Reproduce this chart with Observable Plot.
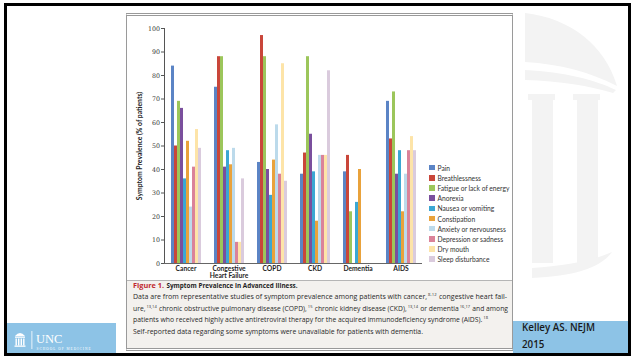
<!DOCTYPE html>
<html>
<head>
<meta charset="utf-8">
<script src="https://cdn.jsdelivr.net/npm/d3@7"></script>
<script src="https://cdn.jsdelivr.net/npm/@observablehq/plot@0.6"></script>
<style>
html,body{margin:0;padding:0;background:#fff;}
#slide{position:relative;width:631px;height:356px;overflow:hidden;background:#fff;font-family:Lato,"Open Sans",sans-serif;}
#wm{position:absolute;left:0;top:0;}
#frame{position:absolute;left:4px;top:3px;right:0;bottom:0;border:3px solid #000;box-sizing:border-box;}
.band{position:absolute;background:#8dc3e6;}
#box{position:absolute;left:126px;top:13px;width:387px;height:338px;box-sizing:border-box;border-left:1px solid #9a9a9a;border-right:1px solid #9a9a9a;border-top:3px double #999;border-bottom:3px double #999;background:#fff;}
#capbg{position:absolute;left:127px;top:280px;width:385px;height:68px;background:#f3f1ee;border-top:1px solid #b5b5b5;box-sizing:border-box;}
#chart{position:absolute;left:127px;top:16px;}
#chart svg g[aria-label="y-axis tick label"]{font-family:"DejaVu Serif",serif;font-size:6.3px;fill:#333;}
#chart svg g[aria-label="y-axis label"]{font-weight:bold;font-size:6.8px;fill:#222;}
#legend{position:absolute;left:429px;top:162.6px;font-family:Lato,"Open Sans",sans-serif;font-size:6.7px;color:#333;}
#legend .row{height:10.18px;display:flex;align-items:center;white-space:nowrap;}
#legend .sw{width:5.5px;height:5.5px;margin-right:3px;flex:none;}
#caption{position:absolute;left:127px;top:280.5px;}
#caption text{white-space:pre;}
#unc{position:absolute;left:0;top:0;}
#cite{position:absolute;left:522px;top:319px;font-family:"Open Sans",sans-serif;font-weight:600;font-size:9.8px;line-height:17px;color:#1a1a1a;}
</style>
</head>
<body>
<div id="slide">
  <svg id="wm" width="631" height="356">
    <g fill="#f3f3f3">
      <path d="M525,13 C570,18 605,45 617,86 C590,72 560,64 525,62 Z"/>
      <path d="M525,70 C565,72 595,80 616,90 L613,93 C590,86 560,81 525,80 Z"/>
      <rect x="528" y="94" width="27" height="6"/>
      <rect x="573" y="94" width="27" height="6"/>
      <rect x="532" y="100" width="21" height="163"/>
      <rect x="577" y="100" width="21" height="163"/>
      <path d="M532,268 C560,266 590,262 612,252 C600,268 575,276 532,278 Z"/>
    </g>
  </svg>
  <div id="frame"></div>
  <div class="band" style="left:7px;top:323px;width:109px;height:30px;"></div>
  <div class="band" style="left:513px;top:321px;width:115px;height:32px;"></div>
  <div id="box"></div>
  <div id="capbg"></div>
  <div id="chart"></div>
  <div id="legend"></div>
  <svg id="caption" width="385" height="68" font-family="'Open Sans',sans-serif" font-size="7.2" fill="#2a2a2a">
    <text x="6" y="6.5" font-weight="bold" fill="#c0282e" textLength="31" lengthAdjust="spacingAndGlyphs">Figure 1.</text>
    <text x="39.5" y="6.5" font-weight="bold" fill="#1e1e1e" textLength="131" lengthAdjust="spacingAndGlyphs">Symptom Prevalence in Advanced Illness.</text>
  </svg>
  <svg id="unc" width="631" height="356">
    <g fill="#fff">
      <path d="M15,336 Q20,330 25,336 Z"/>
      <rect x="15" y="336.5" width="10" height="1.3"/>
      <rect x="15.5" y="338.5" width="1.4" height="7"/>
      <rect x="18" y="338.5" width="1.4" height="7"/>
      <rect x="20.6" y="338.5" width="1.4" height="7"/>
      <rect x="23.1" y="338.5" width="1.4" height="7"/>
      <rect x="14.5" y="345.5" width="11" height="1.3"/>
      <rect x="31.5" y="331" width="0.8" height="18"/>
      <text x="36" y="342.5" font-family="'Liberation Serif',serif" font-size="12.5">UNC</text>
      <text x="36.5" y="349.5" font-family="'Liberation Serif',serif" font-size="3.4" textLength="54" lengthAdjust="spacing">SCHOOL OF MEDICINE</text>
    </g>
  </svg>
  <div id="cite">Kelley AS. NEJM<br>2015</div>
</div>
<script>
const diseases = ["Cancer", "Congestive Heart Failure", "COPD", "CKD", "Dementia", "AIDS"];
const diseaseLabels = ["Cancer", "Congestive\nHeart Failure", "COPD", "CKD", "Dementia", "AIDS"];
const symptoms = ["Pain", "Breathlessness", "Fatigue or lack of energy", "Anorexia", "Nausea or vomiting",
  "Constipation", "Anxiety or nervousness", "Depression or sadness", "Dry mouth", "Sleep disturbance"];
const colors = ["#5b84c5", "#c9463a", "#9cc65b", "#7a4f9d", "#3ba7d3", "#e9a23b", "#bcdaeb", "#da8299", "#fde4a8", "#dacbdd"];

// values per symptom, in disease order (null = not reported)
const pain           = [84, 75, 43, 38, 39, 69];
const breathlessness = [50, 88, 97, 47, 46, 53];
const fatigue        = [69, 88, 88, 88, 22, 73];
const anorexia       = [66, 41, 40, 55, null, 38];
const nausea         = [36, 48, 29, 39, 26, 48];
const constipation   = [52, 42, 44, 18, 40, 22];
const anxiety        = [24, 49, 59, 46, null, 38];
const depression     = [41, 9, 38, 46, null, 48];
const dryMouth       = [57, 9, 85, 46, null, 54];
const sleep          = [49, 36, 35, 82, null, 48];
const yTicks = [0, 10, 20, 30, 40, 50, 60, 70, 80, 90, 100];

const series = [pain, breathlessness, fatigue, anorexia, nausea, constipation, anxiety, depression, dryMouth, sleep];
const rows = [];
symptoms.forEach((s, i) => diseases.forEach((d, j) => {
  const v = series[i][j];
  if (v != null) rows.push({disease: d, symptom: s, value: v});
}));

const chart = Plot.plot({
  width: 385,
  height: 264,
  marginLeft: 35,
  marginRight: 89,
  marginTop: 12,
  marginBottom: 17,
  style: {background: "transparent", color: "#555", fontFamily: "Lato, 'Open Sans', sans-serif", fontSize: "6.6px", overflow: "visible"},
  fx: {domain: diseases, padding: 0, label: null},
  x: {domain: symptoms, axis: null, paddingInner: 0, paddingOuter: 1.09},
  y: {domain: [0, 100], ticks: yTicks, tickSize: 3, tickPadding: 1.5, line: true,
      label: "Symptom Prevalence (% of patients)", labelAnchor: "center", labelOffset: 27, labelArrow: "none"},
  color: {domain: symptoms, range: colors},
  marks: [
    Plot.barY(rows, {fx: "disease", x: "symptom", y: "value", fill: "symptom", inset: 0}),
    Plot.ruleY([0], {stroke: "#666"}),
    Plot.axisFx({anchor: "bottom", tickSize: 0, tickPadding: 2, label: null,
      tickFormat: d => diseaseLabels[diseases.indexOf(d)],
      fontWeight: "bold", fontSize: 6.7, lineHeight: 1.05, fill: "#1e1e1e"})
  ]
});
document.getElementById("chart").appendChild(chart);

const color = chart.scale("color");
const legend = document.getElementById("legend");
symptoms.forEach(s => {
  const row = document.createElement("div");
  row.className = "row";
  const sw = document.createElement("span");
  sw.className = "sw";
  sw.style.background = color.apply(s);
  const t = document.createElement("span");
  t.textContent = s;
  row.appendChild(sw);
  row.appendChild(t);
  legend.appendChild(row);
});

// caption body: lines of [text, superscript?] segments, fitted to measured line widths
const captionLines = [
  {y: 18, w: 374, segs: [["Data are from representative studies of symptom prevalence among patients with cancer,"], ["8-12", 1], ["congestive heart fail-"]]},
  {y: 29.5, w: 375, segs: [["ure,"], ["13,14", 1], ["chronic obstructive pulmonary disease (COPD),"], ["15", 1], ["chronic kidney disease (CKD),"], ["13,14", 1], ["or dementia"], ["16,17", 1], ["and among"]]},
  {y: 41, w: 355, segs: [["patients who received highly active antiretroviral therapy for the acquired immunodeficiency syndrome (AIDS)."], ["18", 1]]},
  {y: 52.5, w: 290, segs: [["Self-reported data regarding some symptoms were unavailable for patients with dementia."]]}
];
const capSvg = document.getElementById("caption");
const NS = "http://www.w3.org/2000/svg";
captionLines.forEach(line => {
  const els = line.segs.map(([t, sup]) => {
    const el = document.createElementNS(NS, "text");
    el.setAttribute("font-size", sup ? 4.3 : 7.2);
    el.textContent = t;
    capSvg.appendChild(el);
    return el;
  });
  const widths = els.map(e => e.getComputedTextLength());
  // gaps: small before a superscript, a word space after it
  const gapAfter = line.segs.map(([, sup], i) => i === line.segs.length - 1 ? 0 : (sup ? 2.2 : 1.0));
  const k = (line.w - d3.sum(gapAfter)) / d3.sum(widths);
  let cx = 6;
  els.forEach((e, i) => {
    const sup = line.segs[i][1];
    e.setAttribute("x", cx);
    e.setAttribute("y", sup ? line.y - 2.8 : line.y);
    e.setAttribute("textLength", widths[i] * k);
    e.setAttribute("lengthAdjust", "spacingAndGlyphs");
    cx += widths[i] * k + gapAfter[i];
  });
});
</script>
</body>
</html>
